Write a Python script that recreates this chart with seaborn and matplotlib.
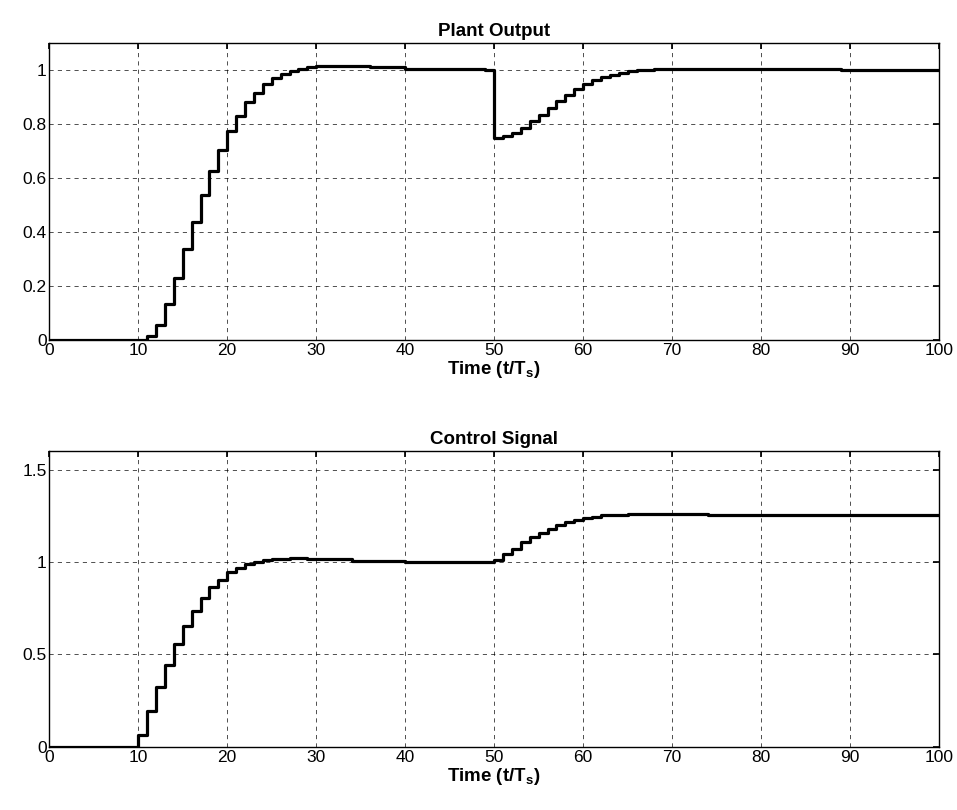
import numpy as np
import pandas as pd
import matplotlib
matplotlib.use('Agg')
import matplotlib.pyplot as plt
import seaborn as sns

# dados (instantes de troca do degrau e nivel) ================================
y_t = [0, 11, 12, 13, 14, 15, 16, 17, 18, 19, 20, 21, 22, 23, 24, 25, 26, 27, 28, 29, 30,
       36, 40, 49,
       50, 51, 52, 53, 54, 55, 56, 57, 58, 59, 60, 61, 62, 63, 64, 65, 66, 67, 68, 89, 100]
y_v = [0, 0.017, 0.056, 0.134, 0.232, 0.339, 0.439, 0.538, 0.626, 0.706, 0.777, 0.832,
       0.883, 0.916, 0.951, 0.971, 0.988, 0.997, 1.006, 1.011, 1.017,
       1.012, 1.006, 1.003,
       0.751, 0.757, 0.768, 0.785, 0.814, 0.835, 0.862, 0.888, 0.910, 0.929, 0.948,
       0.963, 0.974, 0.984, 0.991, 0.996, 1.0, 1.003, 1.006, 1.0, 1.0]

u_t = [0, 10, 11, 12, 13, 14, 15, 16, 17, 18, 19, 20, 21, 22, 23, 24, 25, 27, 29, 34, 40,
       50, 51, 52, 53, 54, 55, 56, 57, 58, 59, 60, 61, 62, 63, 65, 74, 100]
u_v = [0, 0.063, 0.193, 0.324, 0.445, 0.559, 0.652, 0.735, 0.807, 0.865, 0.905, 0.944,
       0.968, 0.988, 1.002, 1.009, 1.016, 1.024, 1.016, 1.006, 1.0,
       1.013, 1.045, 1.072, 1.108, 1.135, 1.157, 1.178, 1.198, 1.216, 1.229, 1.239,
       1.246, 1.252, 1.255, 1.258, 1.252, 1.252]

x_ticks = list(range(0, 101, 10))
y_ticks_top = [0, 0.2, 0.4, 0.6, 0.8, 1]
y_ticks_bot = [0, 0.5, 1, 1.5]

saida = pd.DataFrame({'t': y_t, 'y': y_v})
controle = pd.DataFrame({'t': u_t, 'u': u_v})

# estilo ======================================================================
sns.set_theme(style='white')
plt.rcParams['font.family'] = ['Liberation Sans', 'DejaVu Sans']
plt.rcParams['text.color'] = 'black'
plt.rcParams['axes.labelcolor'] = 'black'
plt.rcParams['mathtext.fontset'] = 'custom'
plt.rcParams['mathtext.bf'] = 'Liberation Sans:bold'
plt.rcParams['mathtext.rm'] = 'Liberation Sans:bold'

fig = plt.figure(figsize=(9.57, 8.10), dpi=100)
ax1 = fig.add_axes([0.0515, 0.580, 0.9297, 0.3665])
ax2 = fig.add_axes([0.0515, 0.078, 0.9297, 0.365])

sns.lineplot(data=saida, x='t', y='y', ax=ax1, color='black', linewidth=2.3,
             drawstyle='steps-post')
sns.lineplot(data=controle, x='t', y='u', ax=ax2, color='black', linewidth=2.3,
             drawstyle='steps-post')

for ax, titulo, yt, ylim in [(ax1, 'Plant Output', y_ticks_top, (0, 1.1)),
                             (ax2, 'Control Signal', y_ticks_bot, (0, 1.6))]:
    ax.set_xlim(0, 100)
    ax.set_ylim(*ylim)
    ax.set_xticks(x_ticks)
    ax.set_yticks(yt)
    ax.set_yticklabels([('%g' % v) for v in yt])
    ax.grid(True, color='black', linestyle=(0, (5, 5)), linewidth=0.6, alpha=0.8)
    ax.tick_params(direction='in', length=4, labelsize=12.5, colors='black',
                   top=True, right=True, pad=2)
    for s in ax.spines.values():
        s.set_color('black')
        s.set_linewidth(1.0)
    ax.set_title(titulo, fontsize=13.5, fontweight='bold', pad=5)
    ax.set_xlabel(r'Time (t/T$_\mathbf{s}$)', fontsize=13.5, fontweight='bold', labelpad=1)
    ax.set_ylabel('')

fig.savefig('out.png', dpi=100)
